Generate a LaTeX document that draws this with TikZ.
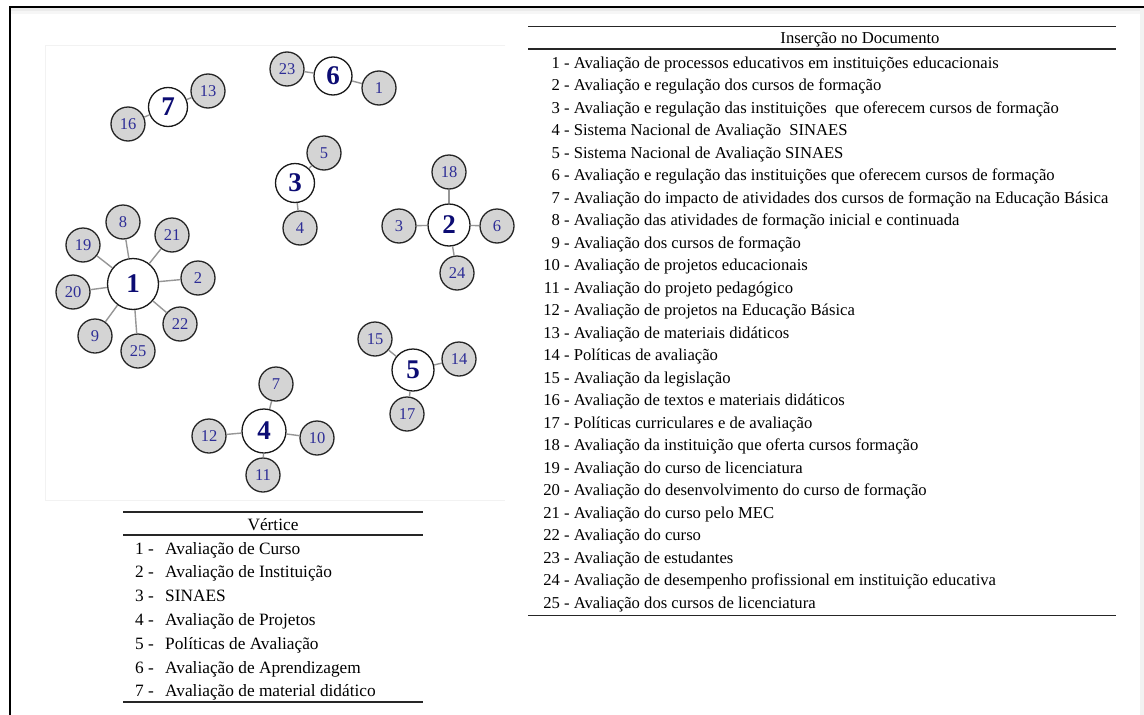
\documentclass[tikz,border=0pt]{standalone}
\usepackage{fontspec}
\setmainfont{Liberation Serif}
\definecolor{leafblue}{RGB}{45,45,150}
\definecolor{hubblue}{RGB}{12,12,115}
\definecolor{leaffill}{RGB}{212,212,212}
\definecolor{edgegray}{RGB}{150,150,150}
\newcommand{\myRnum}[1]{\makebox[16.7pt][r]{#1}}
\newcommand{\myLnum}[1]{\makebox[30pt][l]{#1 -}}
\tikzset{
  leaf/.style={circle, draw=black!85, line width=1.3pt, fill=leaffill, minimum size=34pt, inner sep=0pt, text=leafblue, font=\fontsize{16.5}{16.5}\selectfont},
  hub/.style={circle, draw=black!90, line width=1.3pt, fill=white, inner sep=0pt, text=hubblue, font=\bfseries\fontsize{27}{27}\selectfont},
  edge/.style={draw=edgegray, line width=1.4pt},
  rowR/.style={anchor=base west, inner sep=0pt, font=\fontsize{16.65}{20}\selectfont},
  rowL/.style={anchor=base west, inner sep=0pt, font=\fontsize{17.3}{20}\selectfont},
  rule/.style={line width=1.3pt, black!85},
}
\begin{document}
\begin{tikzpicture}[x=1pt, y=-1pt]
\useasboundingbox (0,0) rectangle (1144,715);
\fill[white] (0,0) rectangle (1144,715);
% frame and shadows
\fill[gray!16] (11,8) rectangle (1144,10.5);
\fill[gray!7] (11,10.5) rectangle (1144,14);
\fill[gray!10] (1140,8) rectangle (1144,715);
\draw[line width=2pt, black] (10,715) -- (10,7) -- (1144,7);
% faint graph panel
\draw[gray!10, line width=1pt] (505,45) -- (45,45) -- (45,500) -- (505,500);

% ---- graph nodes ----
\node[hub, minimum size=38pt] (c6) at (333,76) {6};
\node[leaf] (d23) at (287,69) {23};
\node[leaf] (d1) at (379,88) {1};

\node[hub, minimum size=39pt] (c7) at (168,107) {7};
\node[leaf] (d13) at (208,91) {13};
\node[leaf] (d16) at (128,124) {16};

\node[hub, minimum size=39pt] (c3) at (295,183) {3};
\node[leaf] (d5) at (324,153) {5};
\node[leaf] (d4) at (300,228) {4};

\node[hub, minimum size=42pt] (c2) at (449,225) {2};
\node[leaf] (d18) at (449,172) {18};
\node[leaf] (d3) at (399,226) {3};
\node[leaf] (d6) at (497,226) {6};
\node[leaf] (d24) at (457,273) {24};

\node[hub, minimum size=51pt] (c1) at (133,284) {1};
\node[leaf] (d8) at (123,222) {8};
\node[leaf] (d19) at (83,245) {19};
\node[leaf] (d21) at (172,235) {21};
\node[leaf] (d2) at (198,278) {2};
\node[leaf] (d20) at (73,292) {20};
\node[leaf] (d22) at (180,324) {22};
\node[leaf] (d9) at (95,336) {9};
\node[leaf] (d25) at (138,351) {25};

\node[hub, minimum size=42pt] (c5) at (413,370) {5};
\node[leaf] (d15) at (375,339) {15};
\node[leaf] (d14) at (459,359) {14};
\node[leaf] (d17) at (407,414) {17};

\node[hub, minimum size=44pt] (c4) at (264,431) {4};
\node[leaf] (d7) at (276,384) {7};
\node[leaf] (d12) at (209,436) {12};
\node[leaf] (d10) at (317,438) {10};
\node[leaf] (d11) at (263,475) {11};

% ---- edges ----
\foreach \a/\b in {c6/d23, c6/d1, c7/d13, c7/d16, c3/d5, c3/d4,
  c2/d18, c2/d3, c2/d6, c2/d24,
  c1/d8, c1/d19, c1/d21, c1/d2, c1/d20, c1/d22, c1/d9, c1/d25,
  c5/d15, c5/d14, c5/d17, c4/d7, c4/d12, c4/d10, c4/d11}
  \draw[edge] (\a) -- (\b);

% ---- legend: Vertice ----
\draw[rule] (123,512) -- (423,512);
\node[anchor=base, inner sep=0pt, font=\fontsize{17.3}{20}\selectfont] (vh) at (273,530.5) {Vértice};
\draw[rule] (123,535) -- (423,535);
\node[rowL] (v1) at (135,554) {\myLnum{1}Avaliação de Curso};
\node[rowL] (v2) at (135,577.8) {\myLnum{2}Avaliação de Instituição};
\node[rowL] (v3) at (135,601.6) {\myLnum{3}SINAES};
\node[rowL] (v4) at (135,625.4) {\myLnum{4}Avaliação de Projetos};
\node[rowL] (v5) at (135,649.2) {\myLnum{5}Políticas de Avaliação};
\node[rowL] (v6) at (135,673) {\myLnum{6}Avaliação de Aprendizagem};
\node[rowL] (v7) at (135,696.8) {\myLnum{7}Avaliação de material didático};
\draw[rule] (123,702) -- (423,702);

% ---- legend: Insercao no Documento ----
\draw[rule] (528,26.7) -- (1116,26.7);
\node[anchor=base, inner sep=0pt, font=\fontsize{16.65}{20}\selectfont] (ih) at (860,43) {Inserção no Documento};
\draw[rule] (528,49) -- (1116,49);
\node[rowR] (r1) at (543,68) {\myRnum{1} - Avaliação de processos educativos em instituições educacionais};
\node[rowR] (r2) at (543,90.5) {\myRnum{2} - Avaliação e regulação dos cursos de formação};
\node[rowR] (r3) at (543,113) {\myRnum{3} - Avaliação e regulação das instituições\ \ que oferecem cursos de formação};
\node[rowR] (r4) at (543,135.5) {\myRnum{4} - Sistema Nacional de Avaliação\ \ SINAES};
\node[rowR] (r5) at (543,158) {\myRnum{5} - Sistema Nacional de Avaliação SINAES};
\node[rowR] (r6) at (543,180.5) {\myRnum{6} - Avaliação e regulação das instituições que oferecem cursos de formação};
\node[rowR] (r7) at (543,203) {\myRnum{7} - Avaliação do impacto de atividades dos cursos de formação na Educação Básica};
\node[rowR] (r8) at (543,225.5) {\myRnum{8} - Avaliação das atividades de formação inicial e continuada};
\node[rowR] (r9) at (543,248) {\myRnum{9} - Avaliação dos cursos de formação};
\node[rowR] (r10) at (543,270.5) {\myRnum{10} - Avaliação de projetos educacionais};
\node[rowR] (r11) at (543,293) {\myRnum{11} - Avaliação do projeto pedagógico};
\node[rowR] (r12) at (543,315.5) {\myRnum{12} - Avaliação de projetos na Educação Básica};
\node[rowR] (r13) at (543,338) {\myRnum{13} - Avaliação de materiais didáticos};
\node[rowR] (r14) at (543,360.5) {\myRnum{14} - Políticas de avaliação};
\node[rowR] (r15) at (543,383) {\myRnum{15} - Avaliação da legislação};
\node[rowR] (r16) at (543,405.5) {\myRnum{16} - Avaliação de textos e materiais didáticos};
\node[rowR] (r17) at (543,428) {\myRnum{17} - Políticas curriculares e de avaliação};
\node[rowR] (r18) at (543,450.5) {\myRnum{18} - Avaliação da instituição que oferta cursos formação};
\node[rowR] (r19) at (543,473) {\myRnum{19} - Avaliação do curso de licenciatura};
\node[rowR] (r20) at (543,495.5) {\myRnum{20} - Avaliação do desenvolvimento do curso de formação};
\node[rowR] (r21) at (543,518) {\myRnum{21} - Avaliação do curso pelo MEC};
\node[rowR] (r22) at (543,540.5) {\myRnum{22} - Avaliação do curso};
\node[rowR] (r23) at (543,563) {\myRnum{23} - Avaliação de estudantes};
\node[rowR] (r24) at (543,585.5) {\myRnum{24} - Avaliação de desempenho profissional em instituição educativa};
\node[rowR] (r25) at (543,608) {\myRnum{25} - Avaliação dos cursos de licenciatura};
\draw[rule] (528,615.5) -- (1116,615.5);
\end{tikzpicture}
\end{document}
